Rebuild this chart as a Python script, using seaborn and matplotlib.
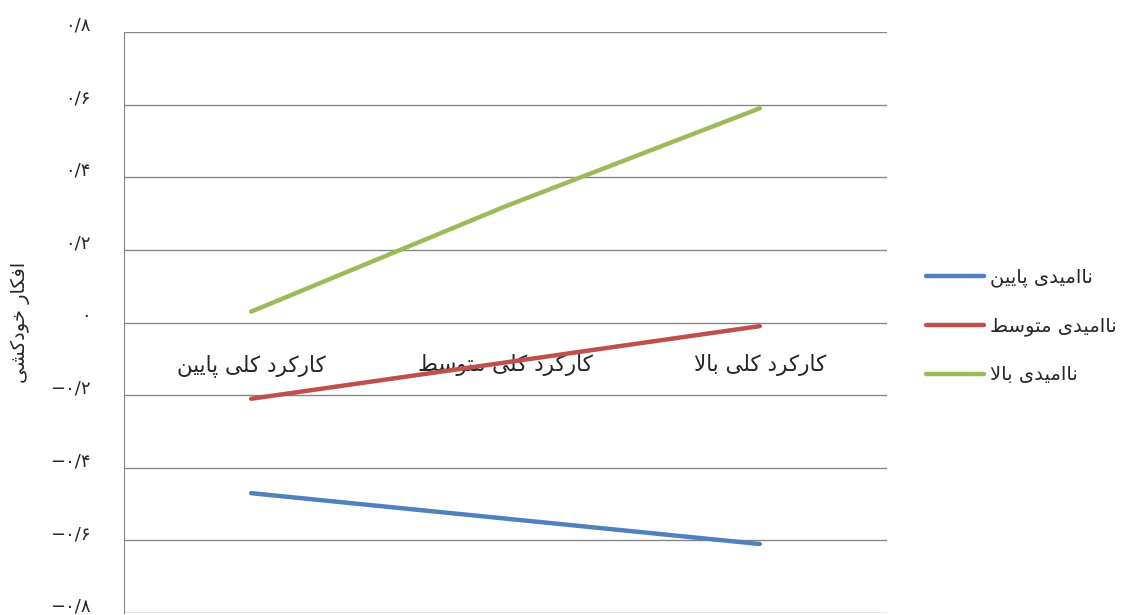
import pandas as pd
import matplotlib
matplotlib.use('Agg')
import matplotlib.pyplot as plt
import matplotlib.transforms as mtransforms
import seaborn as sns

# داده‌ها
categories = ['کارکرد کلی پایین', 'کارکرد کلی متوسط', 'کارکرد کلی بالا']
groups = ['ناامیدی پایین', 'ناامیدی متوسط', 'ناامیدی بالا']
low_values = [-0.47, -0.54, -0.61]
mid_values = [-0.21, -0.11, -0.01]
high_values = [0.03, 0.32, 0.59]
colors = ['#4F81BD', '#C0504D', '#9BBB59']
y_ticks = [-0.8, -0.6, -0.4, -0.2, 0, 0.2, 0.4, 0.6, 0.8]
y_tick_labels = ['−۰/۸', '−۰/۶', '−۰/۴', '−۰/۲', '۰', '۰/۲', '۰/۴', '۰/۶', '۰/۸']
y_label = 'افکار خودکشی'

# شکل‌دهی ساده حروف فارسی (matplotlib خودش این کار را نمی‌کند)
FORMS = {
    'ا': ('\uFE8D', '\uFE8E', None, None),
    'ب': ('\uFE8F', '\uFE90', '\uFE91', '\uFE92'),
    'پ': ('\uFB56', '\uFB57', '\uFB58', '\uFB59'),
    'ت': ('\uFE95', '\uFE96', '\uFE97', '\uFE98'),
    'خ': ('\uFEA5', '\uFEA6', '\uFEA7', '\uFEA8'),
    'د': ('\uFEA9', '\uFEAA', None, None),
    'ر': ('\uFEAD', '\uFEAE', None, None),
    'س': ('\uFEB1', '\uFEB2', '\uFEB3', '\uFEB4'),
    'ش': ('\uFEB5', '\uFEB6', '\uFEB7', '\uFEB8'),
    'ط': ('\uFEC1', '\uFEC2', '\uFEC3', '\uFEC4'),
    'ف': ('\uFED1', '\uFED2', '\uFED3', '\uFED4'),
    'ک': ('\uFB8E', '\uFB8F', '\uFB90', '\uFB91'),
    'ل': ('\uFEDD', '\uFEDE', '\uFEDF', '\uFEE0'),
    'م': ('\uFEE1', '\uFEE2', '\uFEE3', '\uFEE4'),
    'ن': ('\uFEE5', '\uFEE6', '\uFEE7', '\uFEE8'),
    'و': ('\uFEED', '\uFEEE', None, None),
    'ی': ('\uFBFC', '\uFBFD', '\uFBFE', '\uFBFF'),
}


def dual(c):
    return c in FORMS and FORMS[c][2] is not None


def fa(text):
    out = []
    i = 0
    n = len(text)
    while i < n:
        c = text[i]
        if c not in FORMS:
            out.append(c)
            i += 1
            continue
        prev_join = i > 0 and dual(text[i - 1])
        if c == 'ل' and i + 1 < n and text[i + 1] == 'ا':
            out.append('\uFEFC' if prev_join else '\uFEFB')
            i += 2
            continue
        next_join = dual(c) and i + 1 < n and text[i + 1] in FORMS
        iso, fin, ini, med = FORMS[c]
        if prev_join and next_join:
            out.append(med)
        elif prev_join:
            out.append(fin)
        elif next_join:
            out.append(ini)
        else:
            out.append(iso)
        i += 1
    return ''.join(out)[::-1]


df = pd.DataFrame({
    'x': list(range(len(categories))) * 3,
    'value': low_values + mid_values + high_values,
    'group': [g for g in groups for _ in categories],
})

sns.set_style('white')
plt.rcParams['font.family'] = ['DejaVu Sans']

fig = plt.figure(figsize=(11.21, 6.15), dpi=100)
ax = fig.add_axes([124 / 1121, 2 / 615, 763 / 1121, 581 / 615])

sns.lineplot(data=df, x='x', y='value', hue='group', palette=colors,
             linewidth=3.2, ax=ax, legend=True)

# محور افقی روی خط صفر (قبل از تنظیم برچسب‌ها، چون تیک‌ها را از نو می‌سازد)
ax.spines['bottom'].set_position(('data', 0))
ax.spines['bottom'].set_visible(False)
for s in ['top', 'right']:
    ax.spines[s].set_visible(False)
ax.spines['left'].set_color('#868686')

ax.set_xlim(-0.5, 2.5)
ax.set_ylim(-0.8, 0.8)
ax.set_yticks(y_ticks)
ax.set_yticklabels(y_tick_labels)
ax.set_xticks(range(len(categories)))
ax.set_xticklabels([fa(c) for c in categories])
ax.tick_params(axis='x', length=0, pad=23, labelsize=15.5)
ax.tick_params(axis='y', length=0, pad=24, labelsize=13)
ax.set_xlabel('')
ax.set_ylabel(fa(y_label), fontsize=14)
ax.yaxis.set_label_coords(-0.123, 0.5)

ax.grid(axis='y', color='#868686', linewidth=1)
ax.set_axisbelow(True)

# اعداد محور عمودی کمی بالاتر از خطوط
offset = mtransforms.ScaledTranslation(0, 6 / 72, fig.dpi_scale_trans)
for lab in ax.get_yticklabels():
    lab.set_transform(lab.get_transform() + offset)

handles, labels = ax.get_legend_handles_labels()
ax.legend(handles, [fa(l) for l in labels], loc='center left',
          bbox_to_anchor=(908 / 1121, 289 / 615), bbox_transform=fig.transFigure,
          frameon=False, fontsize=14, handlelength=3.0, labelspacing=1.5,
          handletextpad=0.3)

fig.savefig('out.png', dpi=100)
